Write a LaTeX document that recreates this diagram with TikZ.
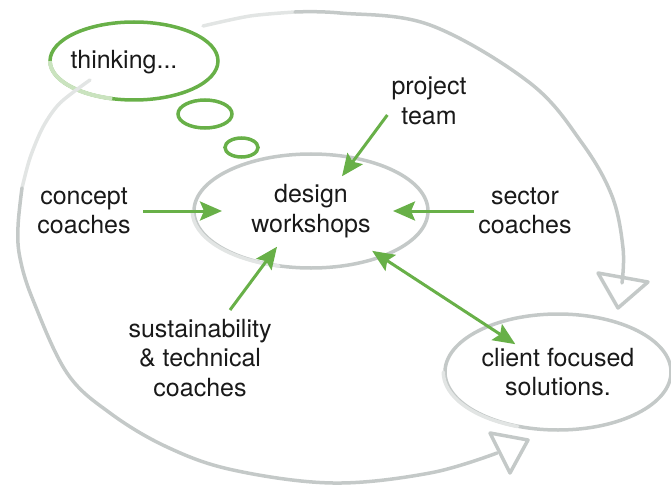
\documentclass[tikz,border=0pt]{standalone}
\usepackage{fontspec}
\setmainfont{TeX Gyre Heros}
\usetikzlibrary{arrows.meta,shapes.geometric}
\definecolor{leafgreen}{RGB}{104,176,72}
\definecolor{sketchgray}{RGB}{196,201,200}
\definecolor{fadegray}{RGB}{226,229,228}

\begin{document}
\begin{tikzpicture}[x=1pt,y=1pt,
        >={Stealth[length=22pt,width=19pt,inset=4pt]},
        words/.style={align=center,inner sep=0pt,text=black!90,font=\fontsize{25}{29.5}\selectfont},
        flow/.style={leafgreen,line width=3pt},
        bubble/.style={leafgreen,line width=3.5pt},
        sketch/.style={sketchgray,line width=3.5pt,line cap=round,line join=round},
        ring/.style={ellipse,draw=sketchgray,line width=3.5pt,inner sep=0pt}]
                \useasboundingbox (0,0) rectangle (671,488);

                % thought bubble
                \draw [bubble] (134,427) ellipse [x radius=84, y radius=39];
                \draw [bubble, leafgreen!35, line width=4pt] (50,427) arc [start angle=180, end angle=255, x radius=84, y radius=39];
                \draw [bubble] (205,374) ellipse [x radius=27, y radius=14];
                \draw [bubble] (241.5,340.5) ellipse [x radius=16.5, y radius=9.5];
                \node [words] (thinking) at (124,426) {thinking...};

                % outer loop
                \draw [sketch, fadegray] plot [smooth] coordinates {(203,462) (250,472) (295,476)};
                \draw [sketch] plot [smooth, tension=0.6] coordinates {(295,476) (340,475) (430,463) (530,405) (582,345) (612,292) (623,240) (622,205)};
                \draw [sketch] (598,215) -- (618,180) -- (648,206) -- cycle;

                \draw [sketch, fadegray] plot [smooth] coordinates {(90,408) (60,385) (43,361) (30,330) (22,300)};
                \draw [sketch] plot [smooth, tension=0.6] coordinates {(22,300) (18,261) (20,230) (33,188) (67,115) (110,75) (167,41) (233,18) (333,5) (430,15) (497,35)};
                \draw [sketch] (490,55) -- (510,15) -- (528,48) -- cycle;

                % ellipses
                \node [ring, words, minimum width=234pt, minimum height=114pt] (design) at (311,277) {design\\workshops};
                \draw [sketch, fadegray] (design.west) arc [start angle=180, end angle=255, x radius=117, y radius=57];
                \node [ring, words, minimum width=226pt, minimum height=116pt] (client) at (558,116) {client focused\\solutions.};
                \draw [sketch, fadegray] (client.west) arc [start angle=180, end angle=250, x radius=113, y radius=58];

                % coaches
                \node [words] (concept) at (84,277) {concept\\coaches};
                \node [words] (sector) at (525,277) {sector\\coaches};
                \node [words] (project) at (429,387) {project\\team};
                \node [words] (sustain) at (200,130) {sustainability\\\& technical\\coaches};

                \draw [flow, ->, shorten <=59pt, shorten >=89pt] (concept.center) -- (design.center);
                \draw [flow, ->, shorten <=51pt, shorten >=82pt] (sector.center) -- (design.center);
                \draw [flow, ->] ([xshift=-4pt,yshift=10pt]project.south west) -- ([xshift=31pt,yshift=-24pt]design.north);
                \draw [flow, ->] ([xshift=30pt,yshift=9pt]sustain.north) -- ([xshift=-34pt,yshift=23pt]design.south);
                \draw [flow, <->, shorten <=73pt, shorten >=51pt] (design.center) -- (client.center);
            \end{tikzpicture}
\end{document}
